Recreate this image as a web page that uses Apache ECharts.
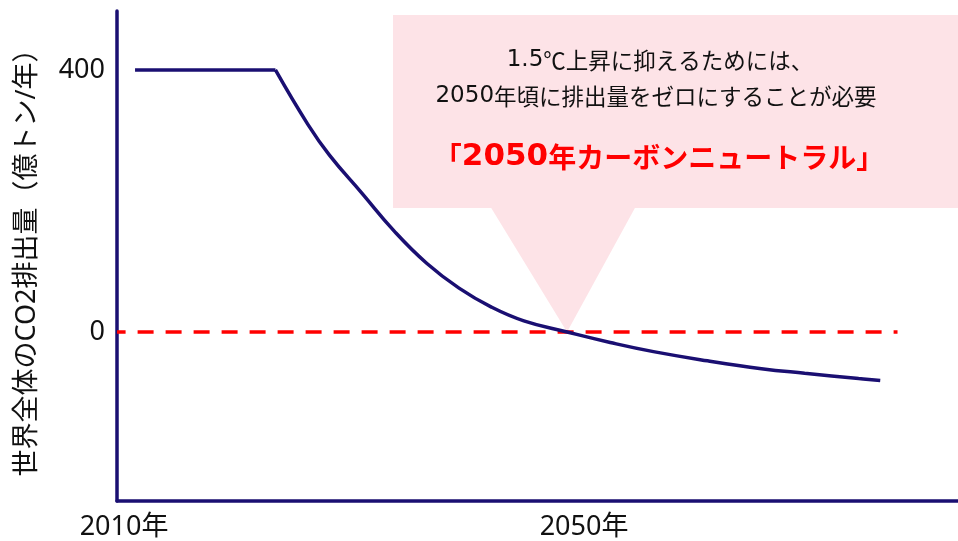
<!DOCTYPE html>
<html>
<head>
<meta charset="utf-8">
<script src="https://cdn.jsdelivr.net/npm/echarts@6/dist/echarts.min.js"></script>
<style>
  html, body { margin: 0; padding: 0; background: #fff; }
  #chart { width: 958px; height: 541px; }
</style>
</head>
<body>
<div id="chart"></div>
<script>
// データ
const years = [2010, 2023, 2026, 2028, 2031, 2034, 2037, 2040, 2043, 2046, 2050, 2054, 2058, 2063, 2068, 2072, 2077, 2079];
const emissions = [400, 400, 317, 270, 212, 154, 105, 67, 38, 17, 0, -16, -30, -44, -56, -63, -71, -74];
const zeroLineYears = [2008.33, 2080.6];
const xTickYears = [2010, 2050];
const yTickValues = [0, 400];
const targetYear = 2050;

const NAVY = '#1a0f72';
const FONT = "'Noto Sans', 'Noto Sans CJK JP', sans-serif";
const CJK = "'Noto Sans CJK JP', sans-serif";
const LATIN = "'DejaVu Sans', 'Noto Sans CJK JP', sans-serif";

const chart = echarts.init(document.getElementById('chart'));

//折れ線を平坦部と減少部に分ける（角を残すため）
const flatData = years.slice(0, 2).map((y, i) => [y, emissions[i]]);
const declineData = years.slice(1).map((y, i) => [y, emissions[i + 1]]);
const zeroData = zeroLineYears.map(y => [y, 0]);

const option = {
  animation: false,
  grid: { left: 117, right: 0, top: 11, bottom: 40 },
  xAxis: {
    type: 'value',
    min: 2008.33,
    max: 2086.2,
    axisLine: { show: true, onZero: false, lineStyle: { color: NAVY, width: 3.5 } },
    axisTick: { show: false },
    splitLine: { show: false },
    axisLabel: {
      customValues: xTickYears,
      margin: 13,
      color: '#111',
      fontSize: 27,
      fontFamily: FONT,
      formatter: v => (v === 2010 ? '{a|' + v + '年}' : '{b|' + v + '年}'),
      rich: {
        a: { fontSize: 27, fontFamily: FONT, color: '#111', padding: [0, 22, 0, 0] },
        b: { fontSize: 27, fontFamily: FONT, color: '#111', padding: [0, 0, 0, 34] }
      }
    }
  },
  yAxis: {
    type: 'value',
    min: -258,
    max: 490,
    name: '世界全体のCO2排出量（億トン/年）',
    nameLocation: 'middle',
    nameRotate: 90,
    nameGap: 76,
    nameTextStyle: { fontSize: 27, color: '#111', fontFamily: FONT },
    axisLine: { show: true, onZero: false, lineStyle: { color: NAVY, width: 3.5 } },
    axisTick: { show: false },
    splitLine: { show: false },
    axisLabel: {
      customValues: yTickValues,
      margin: 12,
      color: '#111',
      fontSize: 27,
      fontFamily: FONT
    }
  },
  series: [
    {
      type: 'line',
      data: zeroData,
      symbol: 'none',
      z: 3,
      lineStyle: { color: '#ff0000', width: 3.5, type: [16, 12], dashOffset: 7.4 }
    },
    {
      type: 'line',
      data: flatData,
      symbol: 'none',
      z: 4,
      lineStyle: { color: NAVY, width: 3.5 }
    },
    {
      type: 'line',
      data: declineData,
      symbol: 'none',
      smooth: 0.45,
      z: 4,
      lineStyle: { color: NAVY, width: 3.5 }
    }
  ]
};
chart.setOption(option);

// 吹き出し（先端は2050年・0の位置）
const tip = chart.convertToPixel({ gridIndex: 0 }, [targetYear, 0]);
const PINK = '#fde3e7';
const blackRich = {
  d: { fontSize: 23, fontFamily: LATIN, fill: '#111' },
  c: { fontSize: 22.5, fontFamily: CJK, fill: '#111' }
};
const redRich = {
  d: { fontSize: 31, fontWeight: 'bold', fontFamily: LATIN, fill: '#ff0000' },
  c: { fontSize: 28, fontWeight: 'bold', fontFamily: CJK, fill: '#ff0000' }
};
chart.setOption({
  graphic: {
    elements: [
      {
        type: 'rect', z: 0,
        shape: { x: 393, y: 15, width: 565, height: 193 },
        style: { fill: PINK }
      },
      {
        type: 'polygon', z: 0,
        shape: { points: [[490, 206], [636, 206], [tip[0], tip[1]]] },
        style: { fill: PINK }
      },
      {
        type: 'text', z: 10, x: 660, y: 60,
        style: { text: '{d|1.5}{c|℃上昇に抑えるためには、}', rich: blackRich, align: 'center', verticalAlign: 'middle' }
      },
      {
        type: 'text', z: 10, x: 656, y: 96,
        style: { text: '{d|2050}{c|年頃に排出量をゼロにすることが必要}', rich: blackRich, align: 'center', verticalAlign: 'middle' }
      },
      {
        type: 'text', z: 10, x: 659, y: 157,
        style: { text: '{c|「}{d|2050}{c|年カーボンニュートラル」}', rich: redRich, align: 'center', verticalAlign: 'middle' }
      }
    ]
  }
});
</script>
</body>
</html>
